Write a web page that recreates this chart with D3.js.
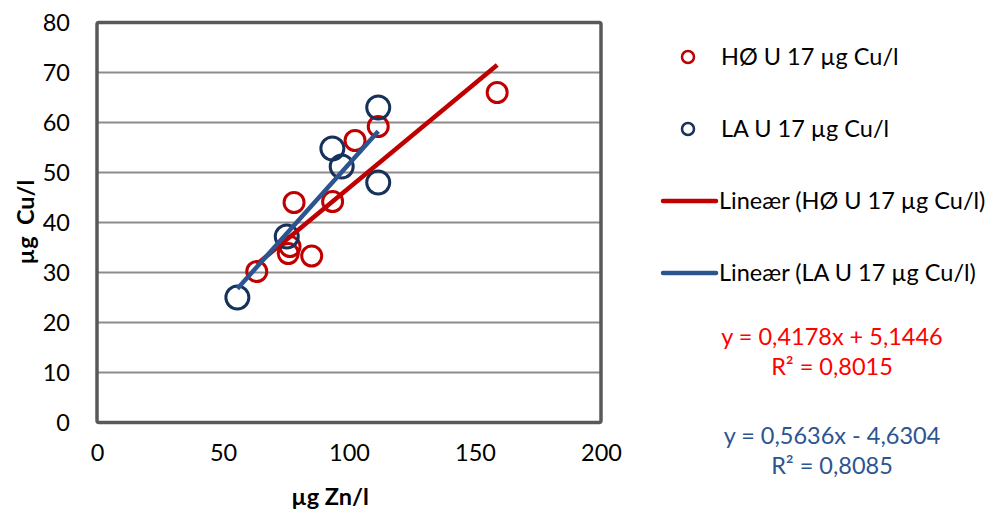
<!DOCTYPE html>
<html><head><meta charset="utf-8">
<script src="https://cdn.jsdelivr.net/npm/d3@7"></script>
<style>body{margin:0;background:#fff}svg{display:block}text{font-family:Lato,"Open Sans",sans-serif}</style>
</head><body>
<svg id="c" width="992" height="510"></svg>
<script>
const xTicks=[0,50,100,150,200];
const yTicks=[0,10,20,30,40,50,60,70,80];
const hoX=[111.6,102.4,78.2,93.5,76.6,75.9,85.2,63.4,158.8];
const hoY=[59.2,56.4,44.0,44.2,35.2,33.8,33.3,30.2,66.0];
const laX=[111.6,93.4,97.1,111.6,75.3,55.7];
const laY=[63.0,54.8,51.2,48.0,37.2,25.0];
const seriesNames=["HØ U 17 µg Cu/l","LA U 17 µg Cu/l"];
const trendNames=["Lineær (HØ U 17 µg Cu/l)","Lineær (LA U 17 µg Cu/l)"];
const slopes=[0.4178,0.5636];
const intercepts=[5.1446,-4.6304];
const eqLabels=["y = 0,4178x + 5,1446","y = 0,5636x - 4,6304"];
const r2Labels=["R² = 0,8015","R² = 0,8085"];
const xTitle="µg Zn/l", yTitle="µg  Cu/l";

const svg=d3.select("#c");
const x=d3.scaleLinear().domain([0,200]).range([97,601]);
const y=d3.scaleLinear().domain([0,80]).range([422.5,22.5]);
const markColors=["#C00000","#17325A"];
const lineColors=["#C00000","#2C5590"];
const eqColors=["#FF0000","#2C5590"];
const FS=23.5;

// gridlines
svg.append("g").selectAll("line").data(yTicks.slice(1)).join("line")
 .attr("x1",x(0)).attr("x2",x(200)).attr("y1",d=>y(d)).attr("y2",d=>y(d))
 .attr("stroke","#8C8C8C").attr("stroke-width",2);

// axes
const ya=svg.append("g").attr("transform","translate(97,0)").call(d3.axisLeft(y).tickValues(yTicks).tickSize(0).tickPadding(27));
const xa=svg.append("g").attr("transform","translate(0,422.5)").call(d3.axisBottom(x).tickValues(xTicks).tickSize(0).tickPadding(22));
[ya,xa].forEach(a=>{a.select(".domain").remove();a.selectAll("text").attr("font-size",FS).attr("fill","#000").attr("font-family","Lato");});

// frame
svg.append("rect").attr("x",x(0)).attr("y",y(80)).attr("width",x(200)-x(0)).attr("height",y(0)-y(80))
 .attr("fill","none").attr("stroke","#595959").attr("stroke-width",3.5).attr("rx",2);

const sets=[[hoX,hoY],[laX,laY]];
const radii=[10,11.5];
// markers
sets.forEach((s,i)=>{
  svg.append("g").selectAll("circle").data(d3.range(s[0].length)).join("circle")
   .attr("cx",j=>x(s[0][j])).attr("cy",j=>y(s[1][j])).attr("r",radii[i])
   .attr("fill","none").attr("stroke",markColors[i]).attr("stroke-width",3);
});
// trendlines
sets.forEach((s,i)=>{
  const [mn,mx]=d3.extent(s[0]);
  svg.append("line").attr("x1",x(mn)).attr("y1",y(slopes[i]*mn+intercepts[i]))
   .attr("x2",x(mx)).attr("y2",y(slopes[i]*mx+intercepts[i]))
   .attr("stroke",lineColors[i]).attr("stroke-width",4.5);
});

// titles
svg.append("text").attr("x",330).attr("y",505).attr("text-anchor","middle").attr("font-size",FS).attr("font-weight","bold").text(xTitle);
svg.append("text").attr("transform","translate(34,222) rotate(-90)").attr("text-anchor","middle").attr("font-size",FS).attr("font-weight","bold").style("white-space","pre").text(yTitle);

// legend
const legY=[57,129,201,273];
seriesNames.forEach((n,i)=>{
  svg.append("circle").attr("cx",688).attr("cy",legY[i]).attr("r",6).attr("fill","none").attr("stroke",markColors[i]).attr("stroke-width",2.5);
  svg.append("text").attr("x",721).attr("y",legY[i]).attr("dy","0.35em").attr("font-size",FS).text(n);
});
trendNames.forEach((n,i)=>{
  svg.append("line").attr("x1",663).attr("x2",716).attr("y1",legY[i+2]).attr("y2",legY[i+2]).attr("stroke",lineColors[i]).attr("stroke-width",4.5).attr("stroke-linecap","round");
  svg.append("text").attr("x",719).attr("y",legY[i+2]).attr("dy","0.35em").attr("font-size",FS).text(n);
});
// equations
const eqY=[337,436];
eqLabels.forEach((t,i)=>{
  svg.append("text").attr("x",832).attr("y",eqY[i]).attr("dy","0.35em").attr("text-anchor","middle").attr("font-size",FS).attr("fill",eqColors[i]).text(t);
  svg.append("text").attr("x",832).attr("y",eqY[i]+30).attr("dy","0.35em").attr("text-anchor","middle").attr("font-size",FS).attr("fill",eqColors[i]).text(r2Labels[i]);
});
</script>
</body></html>
